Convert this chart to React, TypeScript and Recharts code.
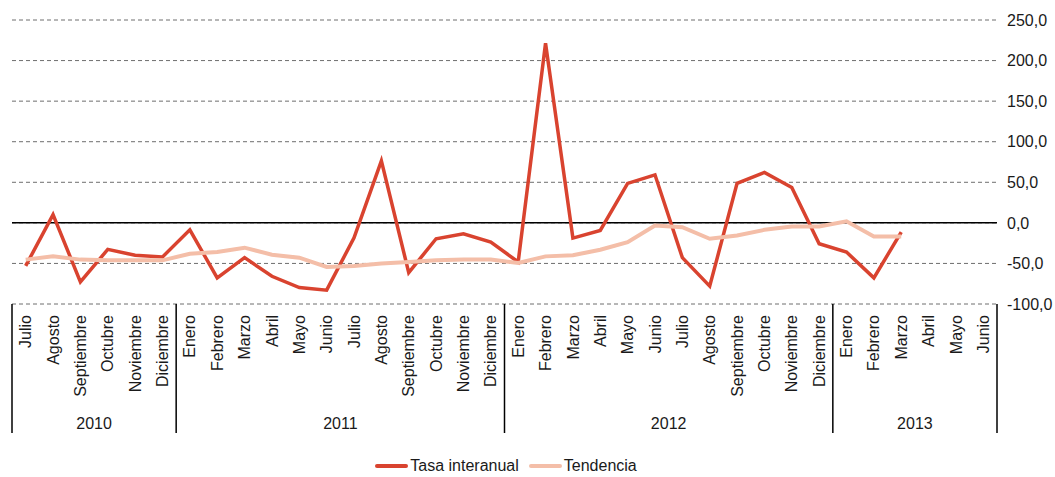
import React from 'react';
import { LineChart, Line, XAxis, YAxis, CartesianGrid, ReferenceLine, Legend } from 'recharts';

const months = [
  'Julio', 'Agosto', 'Septiembre', 'Octubre', 'Noviembre', 'Diciembre',
  'Enero', 'Febrero', 'Marzo', 'Abril', 'Mayo', 'Junio', 'Julio', 'Agosto', 'Septiembre', 'Octubre', 'Noviembre', 'Diciembre',
  'Enero', 'Febrero', 'Marzo', 'Abril', 'Mayo', 'Junio', 'Julio', 'Agosto', 'Septiembre', 'Octubre', 'Noviembre', 'Diciembre',
  'Enero', 'Febrero', 'Marzo', 'Abril', 'Mayo', 'Junio',
];

const years = ['2010', '2011', '2012', '2013'];
const monthsPerYear = [6, 12, 12, 6];

const tasaInteranual = [
  -53.1, 10.2, -72.7, -32.7, -40.0, -42.0,
  -8.6, -67.8, -42.9, -65.8, -79.7, -82.9, -18.4, 76.4, -61.3, -19.6, -13.5, -23.7,
  -48.2, 221.4, -18.8, -9.4, 48.6, 59.2, -42.9, -78.0, 48.6, 62.1, 43.7, -25.7,
  -36.0, -67.8, -11.4, null, null, null,
];

const tendencia = [
  -45.3, -41.3, -45.3, -46.2, -46.2, -46.2,
  -38.0, -36.0, -30.6, -39.2, -42.9, -54.3, -53.1, -50.2, -48.2, -46.2, -45.3, -45.3,
  -49.4, -41.3, -40.0, -33.1, -23.7, -3.3, -5.3, -19.6, -15.5, -8.6, -4.5, -4.5,
  2.0, -16.7, -16.7, null, null, null,
];

const yTicks = [-100, -50, 0, 50, 100, 150, 200, 250];

const data = months.map((m, i) => ({
  key: `m${i}`,
  month: m,
  tasa: tasaInteranual[i],
  tendencia: tendencia[i],
}));

const RED = '#d9432f';
const PINK = '#f4bea8';
const FONT = '"Liberation Sans", Arial, sans-serif';

const W = 1055;
const H = 477;
const M = { top: 20, right: 8, left: 12, bottom: 0 };
const Y_AXIS_W = 50;
const X_AXIS_H = 173;
const PLOT_W = W - M.left - M.right - Y_AXIS_W;
const PLOT_BOTTOM = H - M.bottom - X_AXIS_H;
const BW = PLOT_W / months.length;

// first month index of each year
const yearStarts = monthsPerYear.map((_, i) => monthsPerYear.slice(0, i).reduce((a, b) => a + b, 0));

const MonthTick = (props: any) => {
  const { x, index } = props;
  const left = x - BW / 2;
  const yi = yearStarts.indexOf(index);
  return (
    <g>
      <text
        transform={`translate(${x},${PLOT_BOTTOM + 11}) rotate(-90)`}
        textAnchor="end"
        dy="0.35em"
        fontSize={16}
        fontFamily={FONT}
        fill="#1a1a1a"
      >
        {months[index]}
      </text>
      {yi >= 0 && (
        <>
          <line x1={left} x2={left} y1={PLOT_BOTTOM} y2={PLOT_BOTTOM + 129} stroke="#000" strokeWidth={1.5} />
          <text
            x={left + (monthsPerYear[yi] * BW) / 2}
            y={PLOT_BOTTOM + 125}
            textAnchor="middle"
            fontSize={16}
            fontFamily={FONT}
            fill="#1a1a1a"
          >
            {years[yi]}
          </text>
        </>
      )}
      {index === months.length - 1 && (
        <line x1={x + BW / 2} x2={x + BW / 2} y1={PLOT_BOTTOM} y2={PLOT_BOTTOM + 129} stroke="#000" strokeWidth={1.5} />
      )}
    </g>
  );
};

const legendItems = [
  { name: 'Tasa interanual', color: RED },
  { name: 'Tendencia', color: PINK },
];

const LegendContent = () => (
  <div style={{ display: 'flex', justifyContent: 'center', alignItems: 'center', gap: 10, fontFamily: FONT, fontSize: 16, color: '#1a1a1a' }}>
    {legendItems.map((it) => (
      <div key={it.name} style={{ display: 'flex', alignItems: 'center' }}>
        <span style={{ display: 'inline-block', width: 33, height: 4, background: it.color, borderRadius: 2, marginRight: 2 }} />
        <span>{it.name}</span>
      </div>
    ))}
  </div>
);

export default function App() {
  return (
    <div style={{ width: W, height: H, background: '#fff' }}>
      <style>{'body{margin:0}'}</style>
      <LineChart width={W} height={H} data={data} margin={M}>
        <CartesianGrid vertical={false} stroke="#6e6e6e" strokeDasharray="4 3" />
        <XAxis
          dataKey="key"
          interval={0}
          height={X_AXIS_H}
          padding={{ left: BW / 2, right: BW / 2 }}
          axisLine={false}
          tickLine={false}
          tick={MonthTick}
        />
        <YAxis
          orientation="right"
          width={Y_AXIS_W}
          domain={[-100, 250]}
          ticks={yTicks}
          axisLine={false}
          tickLine={false}
          tickMargin={4}
          tickFormatter={(v: number) => v.toFixed(1).replace('.', ',')}
          tick={{ fontSize: 16, fontFamily: FONT, fill: '#1a1a1a' }}
        />
        <ReferenceLine y={0} stroke="#000" strokeWidth={1.5} />
        <Line
          type="linear"
          dataKey="tasa"
          name="Tasa interanual"
          stroke={RED}
          strokeWidth={3.5}
          dot={false}
          isAnimationActive={false}
        />
        <Line
          type="linear"
          dataKey="tendencia"
          name="Tendencia"
          stroke={PINK}
          strokeWidth={4}
          dot={false}
          isAnimationActive={false}
        />
        <Legend
          verticalAlign="middle"
          align="center"
          content={<LegendContent />}
          wrapperStyle={{ top: 457, left: 0, width: 1012 }}
        />
      </LineChart>
    </div>
  );
}
